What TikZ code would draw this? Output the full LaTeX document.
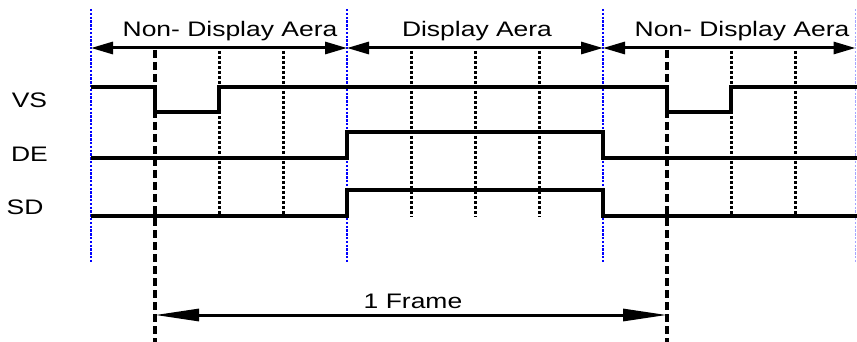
\documentclass[tikz,border=0pt]{standalone}
\usepackage{fontspec}
\setmainfont{Liberation Sans}
\usepackage{graphicx}
\usetikzlibrary{arrows.meta}
\begin{document}
\begin{tikzpicture}[x=1pt,y=-1pt,
  lbl/.style={inner sep=0pt,anchor=base,font=\fontsize{21}{25}\selectfont},
  sig/.style={line width=3.2pt,line join=miter},
  bluedot/.style={blue,line width=2.6pt,dash pattern=on 2.4pt off 1.4pt},
  blackdot/.style={black,line width=3pt,dash pattern=on 3pt off 2pt},
  longdash/.style={black,line width=3.2pt,dash pattern=on 8pt off 4pt},
  toparrow/.style={line width=3pt,{Triangle[length=22pt,width=12pt]}-{Triangle[length=22pt,width=12pt]}},
  framearrow/.style={line width=3pt,{Triangle[length=44pt,width=12pt]}-{Triangle[length=44pt,width=12pt]}}]
\useasboundingbox (0,0) rectangle (857,342);
\newcommand{\sx}[1]{\scalebox{1.26}[1]{#1}}
% region boundaries
\foreach \x/\n in {91/b0,347/b1,603/b2}{
  \coordinate (\n t) at (\x,9);
  \coordinate (\n b) at (\x,262);
  \coordinate (\n a) at (\x,48);
  \draw[bluedot] (\n t) -- (\n b);
}
\coordinate (b3t) at (855.5,9);
\coordinate (b3b) at (855.5,262);
\coordinate (b3a) at (855.5,48);
\draw[bluedot,blue!35,line width=1pt] (b3t) -- (b3b);
% dotted lines
\foreach \x in {219,283,411,475,539,731,795}{
  \coordinate (d\x t) at (\x,51);
  \coordinate (d\x b) at (\x,217);
  \draw[blackdot] (d\x t) -- (d\x b);
}
% dashed frame markers
\coordinate (f1t) at (155,50);
\coordinate (f1b) at (155,342);
\coordinate (f2t) at (667,50);
\coordinate (f2b) at (667,342);
\draw[longdash] (f1t) -- (f1b);
\draw[longdash] (f2t) -- (f2b);
% signals
\draw[sig] (91,87) -- (155,87) -- (155,112) -- (219,112) -- (219,87) -- (667,87) -- (667,112) -- (731,112) -- (731,87) -- (857,87);
\draw[sig] (91,158) -- (347,158) -- (347,132) -- (603,132) -- (603,158) -- (857,158);
\draw[sig] (91,216) -- (347,216) -- (347,190) -- (603,190) -- (603,216) -- (857,216);
% top arrows
\draw[toparrow] (b0a) -- (b1a);
\draw[toparrow] (b1a) -- (b2a);
\draw[toparrow] (b2a) -- (b3a);
% frame arrow
\coordinate (fa1) at (155,315);
\coordinate (fa2) at (667,315);
\draw[framearrow] (fa1) -- (fa2);
% labels
\node[lbl] (t1) at (230,37) {\sx{Non- Display Aera}};
\node[lbl] (t2) at (477,37) {\sx{Display Aera}};
\node[lbl] (t3) at (742,37) {\sx{Non- Display Aera}};
\node[lbl] (vs) at (29.5,108) {\sx{VS}};
\node[lbl] (de) at (29.5,162) {\sx{DE}};
\node[lbl] (sd) at (25,214) {\sx{SD}};
\node[lbl] (fr) at (413,308) {\sx{1 Frame}};
\end{tikzpicture}
\end{document}
